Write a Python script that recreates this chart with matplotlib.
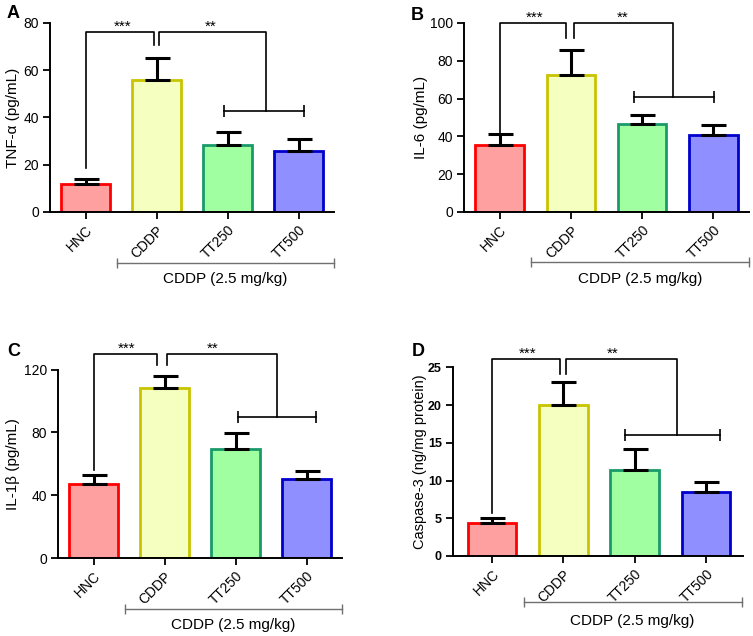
import numpy as np
import matplotlib.pyplot as plt

plt.rcParams['font.family'] = ['Liberation Sans', 'DejaVu Sans']

groups = ['HNC', 'CDDP', 'TT250', 'TT500']

tnf_mean = [12.0, 56.0, 28.5, 25.7]
tnf_err = [2.0, 9.0, 5.3, 5.1]

il6_mean = [35.5, 72.5, 46.5, 41.0]
il6_err = [6.0, 13.0, 5.0, 4.8]

il1b_mean = [47.3, 108.3, 69.5, 50.2]
il1b_err = [5.8, 7.7, 10.2, 5.2]

casp_mean = [4.4, 20.0, 11.4, 8.5]
casp_err = [0.6, 3.1, 2.8, 1.35]

face_colors = ['#ffa0a0', '#f4ffc0', '#a0ffa0', '#8f8fff']
edge_colors = ['#ff0000', '#c8c400', '#1a9a6a', '#0000cc']


def draw_bars(ax, means, errs, ymax, yticks):
    x = np.arange(len(groups))
    ax.bar(x, means, width=0.68, color=face_colors, edgecolor=edge_colors,
           linewidth=2, zorder=2)
    ax.errorbar(x, means, yerr=[np.zeros(len(errs)), errs], fmt='none',
                ecolor='black', elinewidth=2.2, capsize=9, capthick=2.2, zorder=3)
    ax.set_xlim(-0.5, 3.5)
    ax.set_ylim(0, ymax)
    ax.set_yticks(yticks)
    ax.set_xticks(x)
    ax.set_xticklabels(groups, rotation=45, ha='right', rotation_mode='anchor')
    for s in ['top', 'right']:
        ax.spines[s].set_visible(False)
    for s in ['left', 'bottom']:
        ax.spines[s].set_linewidth(1.4)
    ax.tick_params(direction='out', length=5, width=1.3, labelsize=10, pad=3)


def draw_brackets(ax, b):
    kw = dict(color='black', lw=1.2, clip_on=False, zorder=4)
    top = b['top']
    ax.plot([0, 0, b['left_end'], b['left_end']],
            [b['hnc_drop'], top, top, b['mid_drop']], **kw)
    ax.plot([b['right_start'], b['right_start'], b['right_x'], b['right_x']],
            [b['mid_drop'], top, top, b['right_drop']], **kw)
    ax.plot([b['bar0'], b['bar1']], [b['right_drop'], b['right_drop']],
            marker='|', markersize=8, mew=1.2, **kw)
    ax.annotate('***', (b['s3'], top), xytext=(0, 1), textcoords='offset points',
                ha='center', va='baseline', fontsize=11, annotation_clip=False)
    ax.annotate('**', (b['s2'], top), xytext=(0, 1), textcoords='offset points',
                ha='center', va='baseline', fontsize=11, annotation_clip=False)


def draw_group(ax, line_y, text_y):
    tr = ax.get_xaxis_transform()
    ax.plot([0.44, 3.5], [line_y, line_y], color='#707070', lw=1,
            marker='|', markersize=7, mew=1, transform=tr, clip_on=False)
    ax.text(1.97, text_y, 'CDDP (2.5 mg/kg)', ha='center', va='center',
            fontsize=11, transform=tr)


fig = plt.figure(figsize=(7.53, 6.36), dpi=100)

axA = fig.add_axes([50 / 753, 1 - 212 / 636, 284 / 753, 189 / 636])
draw_bars(axA, tnf_mean, tnf_err, 80, [0, 20, 40, 60, 80])
draw_brackets(axA, dict(top=76.2, hnc_drop=18.6, left_end=0.96, mid_drop=70.5,
                        right_start=1.03, right_x=2.54, right_drop=42.9,
                        bar0=1.95, bar1=3.08, s3=0.52, s2=1.76))
draw_group(axA, -0.27, -0.355)
axA.set_ylabel('TNF-α (pg/mL)', fontsize=11)
axA.yaxis.set_label_coords(-0.106, 0.5)

axB = fig.add_axes([464 / 753, 1 - 212 / 636, 285 / 753, 189 / 636])
draw_bars(axB, il6_mean, il6_err, 100, [0, 20, 40, 60, 80, 100])
draw_brackets(axB, dict(top=100, hnc_drop=41.8, left_end=0.93, mid_drop=92.2,
                        right_start=1.04, right_x=2.44, right_drop=60.8,
                        bar0=1.89, bar1=3.01, s3=0.49, s2=1.73))
draw_group(axB, -0.265, -0.355)
axB.set_ylabel('IL-6 (pg/mL)', fontsize=11)
axB.yaxis.set_label_coords(-0.126, 0.5)

axC = fig.add_axes([58 / 753, 1 - 558 / 636, 284 / 753, 188.3 / 636])
draw_bars(axC, il1b_mean, il1b_err, 120, [0, 40, 80, 120])
draw_brackets(axC, dict(top=130, hnc_drop=56.3, left_end=0.89, mid_drop=123,
                        right_start=1.03, right_x=2.58, right_drop=89.7,
                        bar0=2.04, bar1=3.13, s3=0.47, s2=1.68))
draw_group(axC, -0.27, -0.356)
axC.set_ylabel('IL-1β (pg/mL)', fontsize=11)
axC.yaxis.set_label_coords(-0.134, 0.5)

axD = fig.add_axes([453 / 753, 1 - 556 / 636, 290 / 753, 188.7 / 636])
draw_bars(axD, casp_mean, casp_err, 25, [0, 5, 10, 15, 20, 25])
axD.set_xlim(-0.55, 3.52)
axD.tick_params(axis='y', labelsize=9)
for lab in axD.get_yticklabels():
    lab.set_fontweight('bold')
draw_brackets(axD, dict(top=26.06, hnc_drop=5.7, left_end=0.95, mid_drop=24.15,
                        right_start=1.04, right_x=2.59, right_drop=16.07,
                        bar0=1.86, bar1=3.2, s3=0.49, s2=1.69))
draw_group(axD, -0.244, -0.344)
axD.set_ylabel('Caspase-3 (ng/mg protein)', fontsize=10.5)
axD.yaxis.set_label_coords(-0.09, 0.5)

for letter, px, py in [('A', 7, 14), ('B', 411, 16), ('C', 7, 351), ('D', 412, 351)]:
    fig.text(px / 753, 1 - py / 636, letter, fontsize=13, fontweight='bold',
             ha='left', va='center')

fig.savefig('out.png', dpi=100)
